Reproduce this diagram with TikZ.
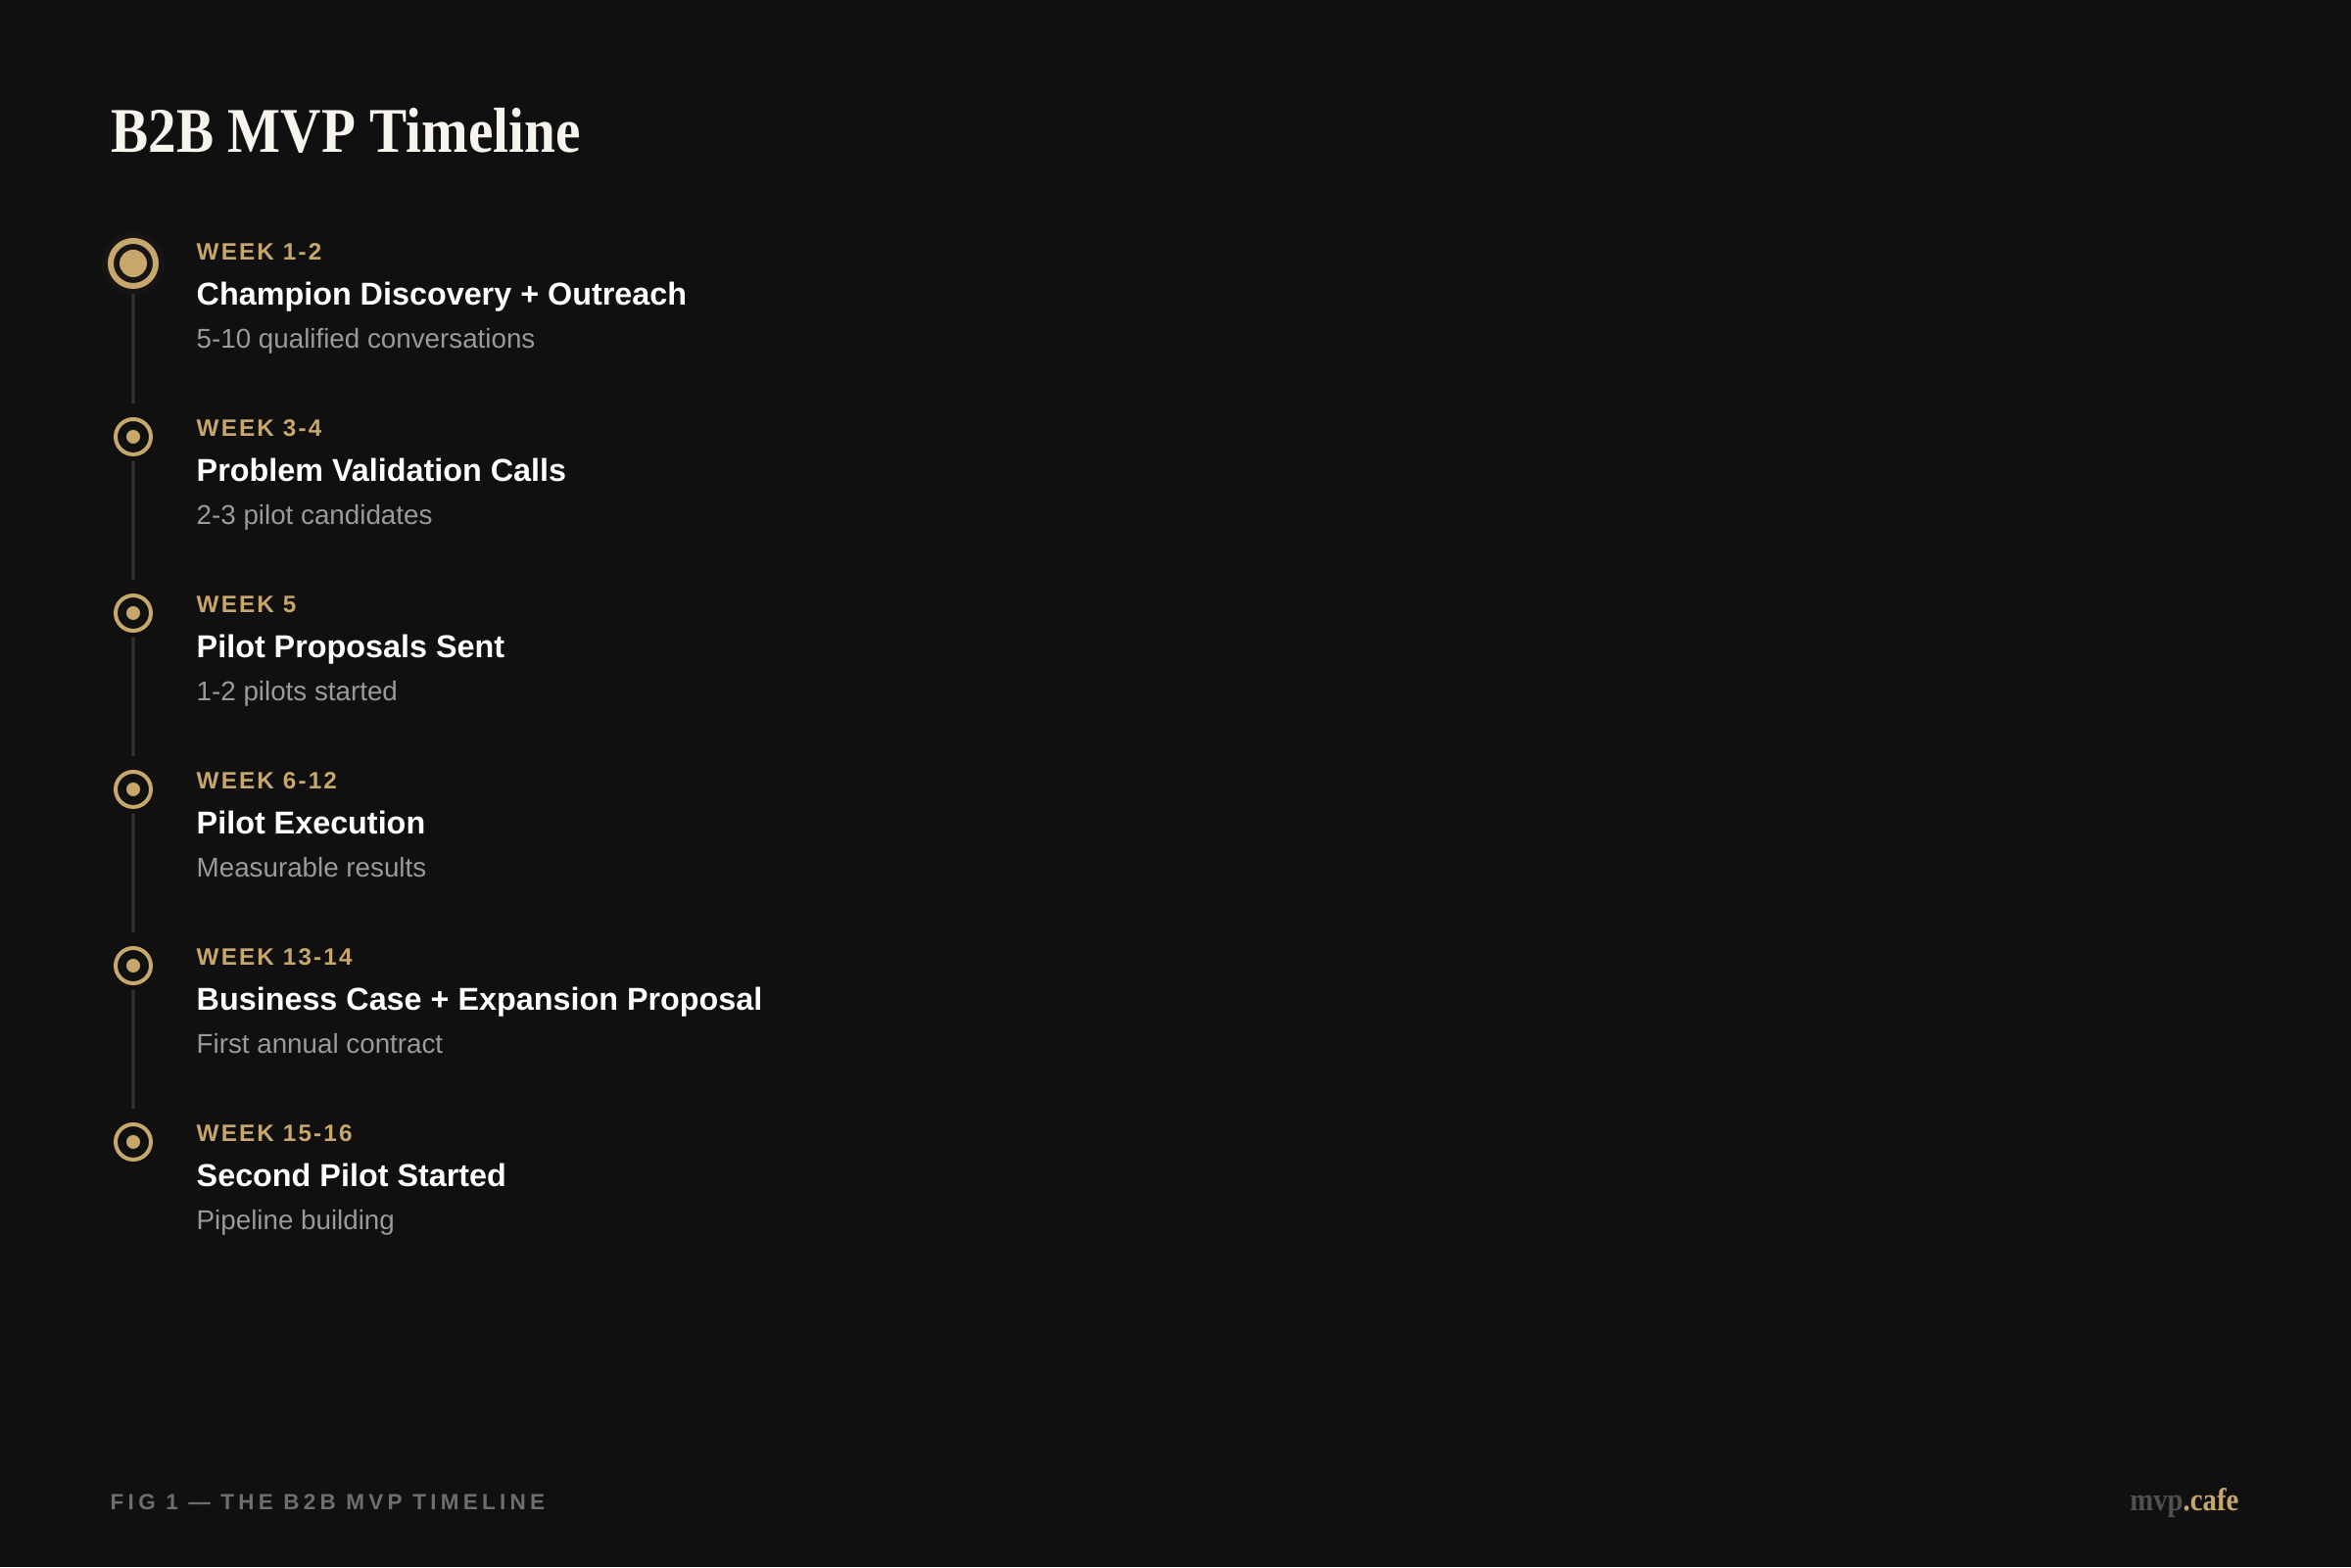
\documentclass[tikz,border=0pt]{standalone}
\usepackage{fontspec}
\setmainfont{Liberation Sans}
\newfontfamily\headfont{Liberation Serif}[FakeStretch=0.88]
\newfontfamily\weekfont{Liberation Sans}[LetterSpace=9]
\newfontfamily\figfont{Liberation Sans}[LetterSpace=19]

\definecolor{pagebg}{HTML}{101010}
\definecolor{gold}{HTML}{C8A76C}
\definecolor{railgray}{HTML}{2E2E2E}
\definecolor{subgray}{HTML}{9A9A9A}
\definecolor{figgray}{HTML}{6E6E6E}
\definecolor{titlewhite}{HTML}{F7F4EE}

\tikzset{
  milestone/.style={circle, draw=gold, line width=0.04cm, minimum size=0.36cm, inner sep=0pt},
  milestonebig/.style={circle, draw=gold, line width=0.06cm, minimum size=0.46cm, inner sep=0pt},
  rail/.style={draw=railgray, line width=0.035cm, shorten <=0.05cm, shorten >=0.14cm},
  weeklabel/.style={anchor=base west, inner sep=0pt, text=gold, font=\weekfont\bfseries\fontsize{6.9}{8}\selectfont},
  stepname/.style={anchor=base west, inner sep=0pt, text=white, font=\bfseries\fontsize{9.2}{11}\selectfont},
  stepnote/.style={anchor=base west, inner sep=0pt, text=subgray, font=\fontsize{7.9}{9.5}\selectfont}
}

\begin{document}
\begin{tikzpicture}
% Page background and frame
\fill[pagebg] (0, 0) rectangle (24, 16);
\useasboundingbox (0, 0) rectangle (24, 16);

% Heading
\node[anchor=base west, inner sep=0pt, text=titlewhite, font=\headfont\bfseries\fontsize{18.5}{22}\selectfont] (heading) at (1.13, 14.44) {B2B MVP Timeline};

% Milestone markers
\fill[gold, opacity=0.04] (1.36, 13.31) circle (0.32);
\node[milestonebig] (m1) at (1.36, 13.31) {};
\node[milestone] (m2) at (1.36, 11.54) {};
\node[milestone] (m3) at (1.36, 9.74) {};
\node[milestone] (m4) at (1.36, 7.94) {};
\node[milestone] (m5) at (1.36, 6.14) {};
\node[milestone] (m6) at (1.36, 4.34) {};
\fill[gold] (m1) circle (0.14);
\fill[gold] (m2) circle (0.07);
\fill[gold] (m3) circle (0.07);
\fill[gold] (m4) circle (0.07);
\fill[gold] (m5) circle (0.07);
\fill[gold] (m6) circle (0.07);

% Rail between markers
\draw[rail] (m1) -- (m2);
\draw[rail] (m2) -- (m3);
\draw[rail] (m3) -- (m4);
\draw[rail] (m4) -- (m5);
\draw[rail] (m5) -- (m6);

% Step texts
\node[weeklabel] (w1) at (2.00, 13.34) {WEEK 1-2};
\node[stepname] (s1) at (2.00, 12.88) {Champion Discovery + Outreach};
\node[stepnote] (n1) at (2.00, 12.44) {5-10 qualified conversations};
\node[weeklabel] (w2) at (2.00, 11.54) {WEEK 3-4};
\node[stepname] (s2) at (2.00, 11.08) {Problem Validation Calls};
\node[stepnote] (n2) at (2.00, 10.64) {2-3 pilot candidates};
\node[weeklabel] (w3) at (2.00, 9.74) {WEEK 5};
\node[stepname] (s3) at (2.00, 9.28) {Pilot Proposals Sent};
\node[stepnote] (n3) at (2.00, 8.84) {1-2 pilots started};
\node[weeklabel] (w4) at (2.00, 7.94) {WEEK 6-12};
\node[stepname] (s4) at (2.00, 7.48) {Pilot Execution};
\node[stepnote] (n4) at (2.00, 7.04) {Measurable results};
\node[weeklabel] (w5) at (2.00, 6.14) {WEEK 13-14};
\node[stepname] (s5) at (2.00, 5.68) {Business Case + Expansion Proposal};
\node[stepnote] (n5) at (2.00, 5.24) {First annual contract};
\node[weeklabel] (w6) at (2.00, 4.34) {WEEK 15-16};
\node[stepname] (s6) at (2.00, 3.88) {Second Pilot Started};
\node[stepnote] (n6) at (2.00, 3.44) {Pipeline building};

% Footer
\node[anchor=base west, inner sep=0pt, text=figgray, font=\figfont\bfseries\fontsize{6.4}{8}\selectfont] (caption) at (1.12, 0.58) {FIG 1 — THE B2B MVP TIMELINE};
\node[anchor=base east, inner sep=0pt, font=\headfont\bfseries\fontsize{9.3}{11}\selectfont] (brand) at (22.86, 0.57) {\textcolor{figgray!120}{mvp}\textcolor{gold}{.cafe}};
\end{tikzpicture}
\end{document}
